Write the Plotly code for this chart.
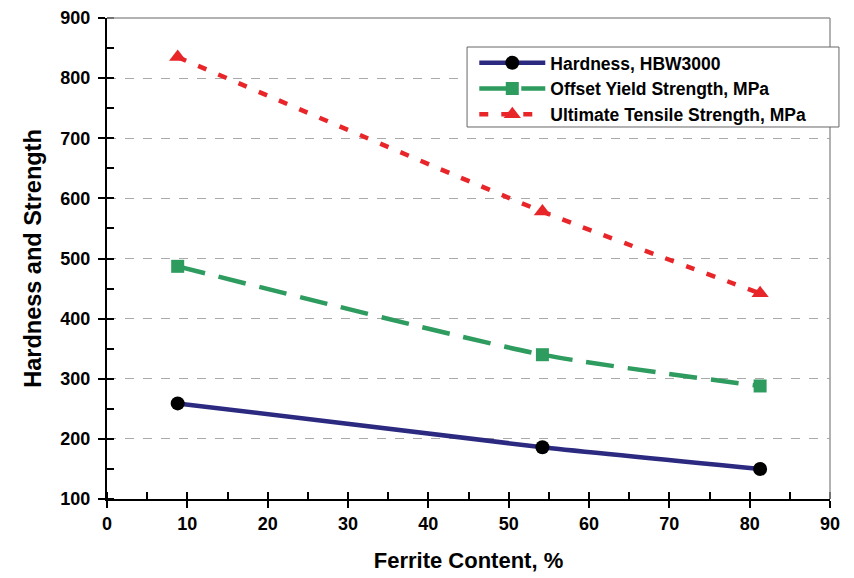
import plotly.graph_objects as go

ferrite = [8.8, 54.2, 81.3]
hardness = [259, 186, 150]
yield_strength = [487, 340, 288]
uts = [835, 578, 442]

names = ["Hardness, HBW3000", "Offset Yield Strength, MPa", "Ultimate Tensile Strength, MPa"]

FONT = "Liberation Sans, Arial, sans-serif"

fig = go.Figure()
fig.add_trace(go.Scatter(
    x=ferrite, y=hardness, name=names[0], mode="lines+markers",
    line=dict(color="#2B2A80", width=4.5, shape="spline", smoothing=0.6),
    marker=dict(symbol="circle", size=14, color="black"),
))
fig.add_trace(go.Scatter(
    x=ferrite, y=yield_strength, name=names[1], mode="lines+markers",
    line=dict(color="#2E9B5F", width=4.5, dash="28px,14px", shape="spline", smoothing=0.6),
    marker=dict(symbol="square", size=13, color="#2E9B5F"),
))
fig.add_trace(go.Scatter(
    x=ferrite, y=uts, name=names[2], mode="lines+markers",
    line=dict(color="#E8262A", width=4.5, dash="9px,13px", shape="spline", smoothing=0.6),
    marker=dict(symbol="triangle-up", size=15, color="#E8262A"),
))

fig.update_layout(
    width=854, height=578,
    margin=dict(l=99, r=32, t=10, b=87),
    plot_bgcolor="white", paper_bgcolor="white",
    font=dict(family=FONT, color="black", size=18),
    showlegend=True,
    legend=dict(
        x=0.508, y=0.944, xanchor="left", yanchor="top",
        bgcolor="rgba(0,0,0,0)", borderwidth=0,
        font=dict(family=FONT, size=17.5, color="black", weight="bold"),
        itemwidth=66, tracegroupgap=0,
    ),
    xaxis=dict(
        range=[0, 90], dtick=10, tick0=0, automargin=False,
        showline=True, linecolor="black", linewidth=2,
        ticks="outside", ticklen=7, tickwidth=2, tickcolor="black",
        minor=dict(dtick=5, ticks="inside", ticklen=7, tickwidth=2, tickcolor="black", showgrid=False),
        showgrid=False, zeroline=False,
        tickfont=dict(family=FONT, size=18, weight="bold"),
        title=dict(text="Ferrite Content, %", font=dict(family=FONT, size=22, weight="bold"), standoff=20),
    ),
    yaxis=dict(
        range=[100, 900], dtick=100, tick0=100, automargin=False,
        showline=True, linecolor="black", linewidth=2,
        ticks="outside", ticklen=7, tickwidth=2, tickcolor="black",
        ticklabelstandoff=4,
        minor=dict(dtick=50, ticks="inside", ticklen=7, tickwidth=2, tickcolor="black", showgrid=False),
        showgrid=True, gridcolor="#AAAAAA", gridwidth=1, griddash="dash",
        zeroline=False,
        tickfont=dict(family=FONT, size=18, weight="bold"),
        title=dict(text="Hardness and Strength", font=dict(family=FONT, size=23.5, weight="bold"), standoff=12),
    ),
    shapes=[
        dict(type="line", xref="paper", yref="paper", x0=0, x1=1, y0=1, y1=1,
             line=dict(color="#999999", width=1.5)),
        dict(type="line", xref="paper", yref="paper", x0=1, x1=1, y0=0, y1=1,
             line=dict(color="#999999", width=1.5)),
        # legend frame
        dict(type="rect", xref="paper", yref="paper", x0=0.498, x1=1.0124, y0=0.7734, y1=0.9397,
             layer="above", fillcolor="white", line=dict(color="#666666", width=1)),
    ],
)

fig.write_html("out.html")
